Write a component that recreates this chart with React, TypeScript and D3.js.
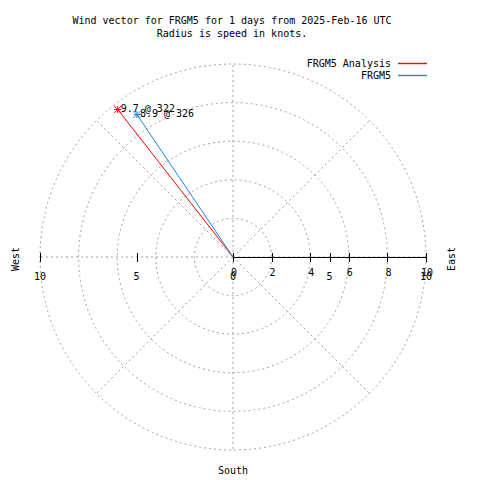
import React from "react";
import * as d3 from "d3";

const titleLines = ["Wind vector for FRGM5 for 1 days from 2025-Feb-16 UTC", "Radius is speed in knots."];
const seriesNames = ["FRGM5 Analysis", "FRGM5"];
const seriesColors = ["#ff0000", "#1e88e5"];
const speeds = [9.7, 8.9];
const directions = [322, 326];
const ringValues = [2, 4, 6, 8, 10];
const spokeAngles = [0, 45, 90, 135, 180, 225, 270, 315];
const rTicks = [0, 2, 4, 6, 8, 10];
const xTicks = [-10, -5, 0, 5, 10];

const W = 480, H = 480;
const cx = 233, cy = 257;
const rMax = 10;
const font = "'DejaVu Sans Mono', monospace";

export default function App() {
  const r = d3.scaleLinear().domain([0, rMax]).range([0, 193]);
  const x = d3.scaleLinear().domain([-rMax, rMax]).range([cx - 193, cx + 193]);
  const grid = "#a0a0a0";
  const pt = (speed: number, dir: number) => {
    const a = (dir * Math.PI) / 180;
    return [cx + r(speed) * Math.sin(a), cy - r(speed) * Math.cos(a)];
  };
  const star = (px: number, py: number, c: string, k: number) => {
    const s = 3.5;
    return (
      <g key={"s" + k} stroke={c} strokeWidth={1}>
        <line x1={px - s} y1={py} x2={px + s} y2={py} />
        <line x1={px} y1={py - s} x2={px} y2={py + s} />
        <line x1={px - s} y1={py - s} x2={px + s} y2={py + s} />
        <line x1={px - s} y1={py + s} x2={px + s} y2={py - s} />
      </g>
    );
  };
  return (
    <svg width={W} height={H} style={{ display: "block", position: "absolute", left: 0, top: 0, background: "#fff" }} fontFamily={font} fontSize={10}>
      <rect x={0} y={0} width={W} height={H} fill="#fff" />
      {/* grid rings */}
      {ringValues.map((v) => (
        <circle key={"ring" + v} cx={cx} cy={cy} r={r(v)} fill="none" stroke={grid} strokeWidth={1} strokeDasharray="2,3" />
      ))}
      {/* spokes */}
      {spokeAngles.map((a) => {
        const [px, py] = pt(rMax, a);
        return <line key={"sp" + a} x1={cx} y1={cy} x2={px} y2={py} stroke={grid} strokeWidth={1} strokeDasharray="2,3" />;
      })}
      {/* r axis */}
      <line x1={cx} y1={cy + 0.5} x2={cx + r(rMax)} y2={cy + 0.5} stroke="#000" strokeWidth={1} shapeRendering="crispEdges" />
      {rTicks.map((t) => (
        <g key={"rt" + t}>
          <line x1={cx + r(t) + 0.5} y1={cy - 4} x2={cx + r(t) + 0.5} y2={cy + 5} stroke="#000" shapeRendering="crispEdges" />
          <text x={cx + r(t) + 1} y={cy + 15} dy="0.35em" textAnchor="middle">{t}</text>
        </g>
      ))}
      {xTicks.map((t) => (
        <g key={"xt" + t}>
          <line x1={x(t) + 0.5} y1={cy - 4} x2={x(t) + 0.5} y2={cy + 5} stroke="#000" shapeRendering="crispEdges" />
          <text x={x(t)} y={cy + 19} dy="0.35em" textAnchor="middle">{Math.abs(t)}</text>
        </g>
      ))}
      {/* data vectors */}
      {speeds.map((s, i) => {
        const [px, py] = pt(s, directions[i]);
        return (
          <g key={"v" + i}>
            <line x1={cx} y1={cy} x2={px} y2={py} stroke={seriesColors[i]} strokeWidth={1} />
            {star(px, py, seriesColors[i], i)}
            <text x={px + 3} y={py - 1} dy="0.35em">{`${s} @ ${directions[i]}`}</text>
          </g>
        );
      })}
      {/* titles */}
      {titleLines.map((t, i) => (
        <text key={"t" + i} x={232} y={20 + i * 13} dy="0.35em" textAnchor="middle">{t}</text>
      ))}
      {/* legend */}
      {seriesNames.map((n, i) => (
        <g key={"lg" + i}>
          <text x={391} y={63 + i * 12} dy="0.35em" textAnchor="end">{n}</text>
          <line x1={398} y1={63.5 + i * 12} x2={427} y2={63.5 + i * 12} stroke={seriesColors[i]} strokeWidth={1.4} />
        </g>
      ))}
      {/* compass labels */}
      <text transform={`translate(15,${cy + 2}) rotate(-90)`} dy="0.35em" textAnchor="middle">West</text>
      <text transform={`translate(451,${cy + 2}) rotate(-90)`} dy="0.35em" textAnchor="middle">East</text>
      <text x={cx} y={470} dy="0.35em" textAnchor="middle">South</text>
    </svg>
  );
}
